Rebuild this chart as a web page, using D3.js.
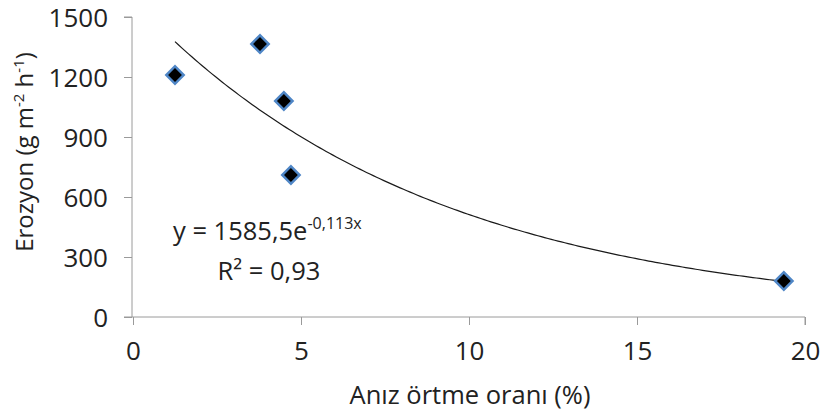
<!DOCTYPE html>
<html>
<head>
<meta charset="utf-8">
<script src="https://cdn.jsdelivr.net/npm/d3@7"></script>
<style>
html,body{margin:0;padding:0;background:#fff;}
svg{display:block;}
text{font-family:"Open Sans",sans-serif;fill:#222;}
</style>
</head>
<body>
<svg id="chart" width="822" height="414"></svg>
<script>
// Data
const coverPct = [1.25, 3.78, 4.49, 4.70, 19.37];
const erosion = [1210, 1365, 1080, 710, 180];
const xTicks = [0, 5, 10, 15, 20];
const yTicks = [0, 300, 600, 900, 1200, 1500];
const fitA = 1585.5;
const fitB = -0.113;
const eqText = "y = 1585,5e";
const eqExp = "-0,113x";
const r2Text = "R² = 0,93";
const xTitle = "Anız örtme oranı (%)";

const svg = d3.select("#chart");
const x = d3.scaleLinear().domain([0, 20]).range([133, 805]);
const y = d3.scaleLinear().domain([0, 1500]).range([317, 17]);
const axisColor = "#9a9a9a";

// y axis
const gy = svg.append("g").attr("transform", "translate(132,0)")
  .call(d3.axisLeft(y).tickValues(yTicks).tickFormat(d3.format("d")).tickSize(8).tickPadding(16));
gy.select(".domain").attr("stroke", axisColor).attr("d", `M-8,${y(1500)}H0V${y(0)}`);
gy.selectAll(".tick line").attr("stroke", axisColor);
gy.selectAll(".tick text").style("font-size", "26px").attr("fill", "#222").attr("dy", "0.38em");

// x axis
const gx = svg.append("g").attr("transform", "translate(0,317)")
  .call(d3.axisBottom(x).tickValues(xTicks).tickFormat(d3.format("d")).tickSize(8).tickPadding(17));
gx.select(".domain").attr("stroke", axisColor).attr("d", `M${x(0)-9},0H${x(20)}V8`);
gx.selectAll(".tick line").attr("stroke", axisColor);
gx.selectAll(".tick text").style("font-size", "26px").attr("fill", "#222");

// Axis titles
svg.append("text").attr("x", 470).attr("y", 404).attr("text-anchor", "middle")
  .style("font-size", "25.5px").text(xTitle);

const yt = svg.append("text").attr("transform", "translate(33,152) rotate(-90)")
  .attr("text-anchor", "middle").style("font-size", "24px");
yt.append("tspan").text("Erozyon (g m");
yt.append("tspan").attr("dy", -9).style("font-size", "15px").text("-2");
yt.append("tspan").attr("dy", 9).text(" h");
yt.append("tspan").attr("dy", -9).style("font-size", "15px").text("-1");
yt.append("tspan").attr("dy", 9).text(")");

// Trendline (from displayed fit equation)
const xs = d3.range(coverPct[0], coverPct[4] + 0.001, 0.1);
const line = d3.line().x(d => x(d)).y(d => y(fitA * Math.exp(fitB * d)));
svg.append("path").datum(xs).attr("d", line)
  .attr("fill", "none").attr("stroke", "#1a1a1a").attr("stroke-width", 1.2);

// Markers
const diamond = d3.symbol().type(d3.symbolSquare).size(150);
svg.selectAll(".pt").data(coverPct).join("path")
  .attr("class", "pt")
  .attr("transform", (d, i) => `translate(${x(d)},${y(erosion[i])}) rotate(45)`)
  .attr("d", diamond)
  .attr("fill", "#000").attr("stroke", "#4f86c6").attr("stroke-width", 2.5);

// Equation
const eq = svg.append("text").attr("x", 173).attr("y", 240).style("font-size", "25.5px");
eq.append("tspan").text(eqText);
eq.append("tspan").attr("dy", -11).style("font-size", "16px").text(eqExp);
svg.append("text").attr("x", 269).attr("y", 280).attr("text-anchor", "middle")
  .style("font-size", "25.5px").text(r2Text);
</script>
</body>
</html>
